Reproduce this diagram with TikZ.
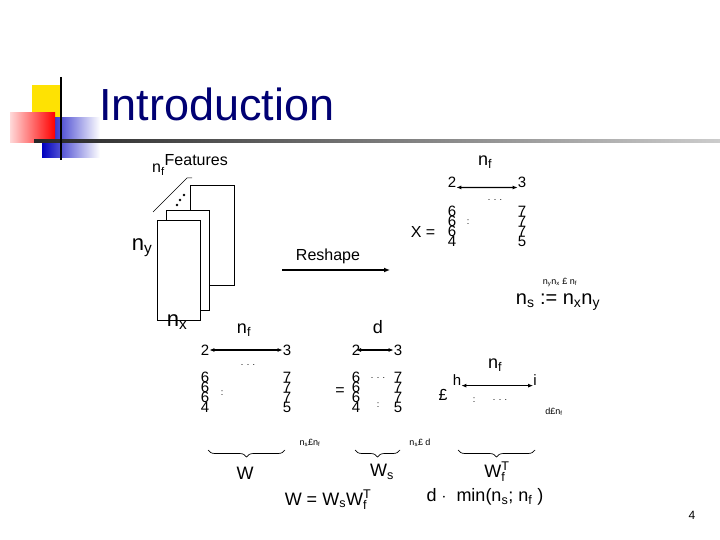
\documentclass[tikz,border=0pt]{standalone}
\usepackage{fontspec}
\setmainfont{Liberation Sans}
\usetikzlibrary{decorations.pathreplacing,arrows.meta}
\begin{document}
\begin{tikzpicture}[x=1pt,y=-1pt,
  txt/.style={inner sep=0pt,font=\fontsize{16}{16}\selectfont},
  sm/.style={inner sep=0pt,font=\fontsize{9}{9}\selectfont},
  dg/.style={inner sep=0pt,font=\fontsize{15}{15}\selectfont},
  dar/.style={{Latex[length=5pt,width=4pt]}-{Latex[length=5pt,width=4pt]},line width=1.2pt},
  sheet/.style={draw,fill=white,line width=0.7pt},
  brc/.style={decorate,decoration={brace,amplitude=7pt,mirror},line width=0.7pt}]
\useasboundingbox (0,0) rectangle (720,540);
% decoration
\fill[yellow!85!orange] (32,85) rectangle (62,120);
\shade[left color=blue!75!black,right color=white] (42,118) rectangle (100,158);
\shade[left color=red!15,right color=red] (10,113) rectangle (55,143);
\shade[left color=black!85,right color=black!20] (34,139.5) rectangle (720,142.5);
\draw[line width=2.5pt] (61,77) -- (61,160);
\node[anchor=west,inner sep=0pt,text=blue!45!black,font=\fontsize{45}{45}\selectfont] (title) at (99,104) {Introduction};
% sheets
\draw[sheet] (190,185) rectangle (234,285);
\draw[sheet] (166,210) rectangle (209,310);
\draw[sheet] (157,220) rectangle (200,320);
\node[txt] (feat) at (190,165) {n$_{\mathrm{f}}$\raisebox{7pt}{Features}};
\coordinate (s1) at (153,212); \coordinate (s2) at (187,178);
\draw[line width=0.5pt] (s1) -- (s2) -- ++(5,0);
\fill (180,200) circle (1.3) (184,195) circle (1.3) (177,205) circle (1.3);
\node[txt,font=\fontsize{22}{22}\selectfont] (ny) at (142,248) {n$_{\mathrm{y}}$};
\node[txt,font=\fontsize{22}{22}\selectfont] (nx) at (177,322) {n$_{\mathrm{x}}$};
% reshape
\node[txt] (resh) at (328,256) {Reshape};
\coordinate (r1) at (282,270); \coordinate (r2) at (390,270);
\draw[-{Latex[length=6pt,width=5pt]},line width=1.2pt] (r1) -- (r2);
% X matrix
\node[txt] (xeq) at (423,232) {X =};
\node[txt,font=\fontsize{18}{18}\selectfont] (nfx) at (485,162) {n$_{\mathrm{f}}$};
\node[dg] (x2) at (452,182) {2};
\node[dg] (x3) at (522,182) {3};
\draw[dar] (x2.south east) -- (x3.south west);
\node[sm] (xd) at (495,200) {. . .};
\node[dg,align=center] (xc1) at (452,226) {6\\[-5pt]6\\[-5pt]6\\[-5pt]4};
\node[sm] (xv) at (468,222) {:};
\node[dg,align=center] (xc2) at (522,226) {7\\[-5pt]7\\[-5pt]7\\[-5pt]5};
\node[sm] (dim1) at (560,282) {n$_{\mathrm{y}}$n$_{\mathrm{x}}$ £ n$_{\mathrm{f}}$};
\node[txt,font=\fontsize{20}{20}\selectfont] (ns) at (558,302) {n$_{\mathrm{s}}$ := n$_{\mathrm{x}}$n$_{\mathrm{y}}$};
% W matrix
\node[txt,font=\fontsize{18}{18}\selectfont] (nfw) at (244,330) {n$_{\mathrm{f}}$};
\node[dg] (w2) at (205,350) {2};
\node[dg] (w3) at (287,350) {3};
\draw[dar] (w2.east) -- (w3.west);
\node[sm] (wd) at (248,365) {. . .};
\node[dg,align=center] (wc1) at (205,392) {6\\[-5pt]6\\[-5pt]6\\[-5pt]4};
\node[sm] (wv) at (222,393) {:};
\node[dg,align=center] (wc2) at (287,392) {7\\[-5pt]7\\[-5pt]7\\[-5pt]5};
% Ws matrix
\node[txt,font=\fontsize{18}{18}\selectfont] (dd) at (378,327) {d};
\node[dg] (s2a) at (356,350) {2};
\node[dg] (s3a) at (398,350) {3};
\draw[dar] (s2a.center) -- (s3a.west);
\node[txt] (eq) at (340,392) {=};
\node[dg,align=center] (sc1) at (356,392) {6\\[-5pt]6\\[-5pt]6\\[-5pt]4};
\node[sm] (sd) at (378,378) {. . .};
\node[sm] (sv) at (378,405) {:};
\node[dg,align=center] (sc2) at (398,392) {7\\[-5pt]7\\[-5pt]7\\[-5pt]5};
% Wf matrix
\node[txt] (tm) at (443,395) {£};
\node[txt,font=\fontsize{18}{18}\selectfont] (nff) at (495,365) {n$_{\mathrm{f}}$};
\node[dg] (fh) at (457,380) {h};
\node[dg] (fi) at (535,380) {i};
\draw[dar] (fh.south east) -- (fi.south west);
\node[sm] (fv) at (474,400) {:};
\node[sm] (fd) at (500,400) {. . .};
\node[sm] (dim4) at (554,412) {d£n$_{\mathrm{f}}$};
% dims
\node[sm] (dim2) at (310,443) {n$_{\mathrm{s}}$£n$_{\mathrm{f}}$};
\node[sm] (dim3) at (420,443) {n$_{\mathrm{s}}$£ d};
% braces
\coordinate (b1) at (208,450); \coordinate (b2) at (285,450);
\coordinate (b3) at (355,450); \coordinate (b4) at (400,450);
\coordinate (b5) at (458,450); \coordinate (b6) at (535,450);
\draw[brc] (b1) -- (b2);
\draw[brc] (b3) -- (b4);
\draw[brc] (b5) -- (b6);
\node[txt,font=\fontsize{18}{18}\selectfont] (lw) at (245,473) {W};
\node[txt,font=\fontsize{18}{18}\selectfont] (lws) at (382,472) {W$_{\mathrm{s}}$};
\node[txt,font=\fontsize{18}{18}\selectfont] (lwf) at (497,472) {W$_{\mathrm{f}}^{\mathrm{T}}$};
\node[txt,font=\fontsize{18}{18}\selectfont] (eqw) at (328,500) {W = W$_{\mathrm{s}}$W$_{\mathrm{f}}^{\mathrm{T}}$};
\node[txt,font=\fontsize{18}{18}\selectfont] (mn) at (485,497) {d $\cdot$\ \ min(n$_{\mathrm{s}}$; n$_{\mathrm{f}}$ )};
\node[txt,font=\fontsize{12}{12}\selectfont] (pg) at (692,515) {4};
\end{tikzpicture}
\end{document}
